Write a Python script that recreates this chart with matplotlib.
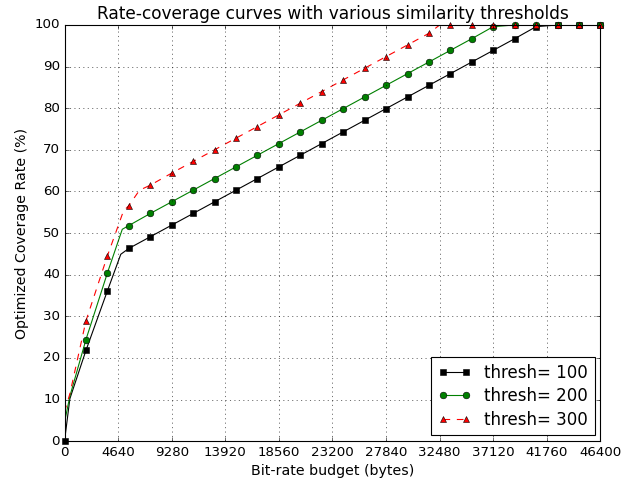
import numpy as np
import matplotlib
matplotlib.use("Agg")
import matplotlib.pyplot as plt
from matplotlib.lines import Line2D

plt.style.use("classic")

# bit-rate budget where markers sit (bytes)
budget = np.arange(0, 46401, 1856)
xticks = [0, 4640, 9280, 13920, 18560, 23200, 27840, 32480, 37120, 41760, 46400]

# coverage at marker positions (%)
black_marks = [0, 21.8, 36.1, 46.3, 49.1, 51.9, 54.7, 57.5, 60.3, 63.1, 65.9, 68.7, 71.5,
               74.3, 77.1, 79.9, 82.7, 85.5, 88.3, 91.1, 93.9, 96.7, 99.6, 100, 100, 100]
green_marks = [24.4, 40.4, 51.8, 54.7, 57.5, 60.3, 63.1, 65.9, 68.7, 71.5, 74.3, 77.1,
               79.9, 82.7, 85.5, 88.3, 91.1, 93.9, 96.7, 99.6, 100, 100, 100, 100, 100]
red_marks = [28.9, 44.5, 56.6, 61.5, 64.4, 67.2, 70.0, 72.8, 75.6, 78.4, 81.2, 84.0,
             86.8, 89.6, 92.4, 95.2, 98.0, 100, 100, 100, 100, 100, 100, 100, 100]

# extra line points between markers
black_bx = [464, 4872]
black_by = [10.2, 44.9]
green_bx = [0, 464, 5000]
green_by = [4.5, 10.8, 50.9]
red_bx = [0, 464, 5104, 6496, 32480]
red_by = [7.0, 11.4, 55.3, 60.3, 100]

series = [
    ("thresh= 100", budget, black_marks, black_bx, black_by, "k", "s", "-"),
    ("thresh= 200", budget[1:], green_marks, green_bx, green_by, "g", "o", "-"),
    ("thresh= 300", budget[1:], red_marks, red_bx, red_by, "r", "^", "--"),
]

fig = plt.figure(figsize=(635 / 80.0, 6), dpi=80, facecolor="w")
ax = fig.add_axes([0.1016, 0.081, 0.8440, 0.867])

handles = []
for label, mx, my, bx, by, c, m, ls in series:
    lx = np.concatenate([mx, bx])
    ly = np.concatenate([my, by])
    order = np.argsort(lx, kind="stable")
    ax.plot(lx[order], ly[order], color=c, linestyle=ls, linewidth=1.0)
    ax.plot(mx, my, color=c, linestyle="none", marker=m, markersize=6,
            markeredgecolor="k", markeredgewidth=0.5, clip_on=False)
    handles.append(Line2D([], [], color=c, linestyle=ls, marker=m, markersize=6,
                          markeredgecolor="k", markeredgewidth=0.5, label=label))

ax.set_xlim(0, 46400)
ax.set_ylim(0, 100)
ax.set_xticks(xticks)
ax.set_yticks(range(0, 101, 10))
ax.grid(True, color="k", linestyle=":", linewidth=0.5)
ax.tick_params(labelsize=12)
ax.set_xlabel("Bit-rate budget (bytes)", fontsize=12.7)
ax.set_ylabel("Optimized Coverage Rate (%)", fontsize=12.7)
ax.set_title("Rate-coverage curves with various similarity thresholds", fontsize=15.3)
ax.legend(handles=handles, loc="lower right", numpoints=2, fontsize=15, fancybox=False,
          labelspacing=0.33, borderpad=0.4, borderaxespad=0.35)

fig.savefig("out.png", dpi=80, facecolor="w")
